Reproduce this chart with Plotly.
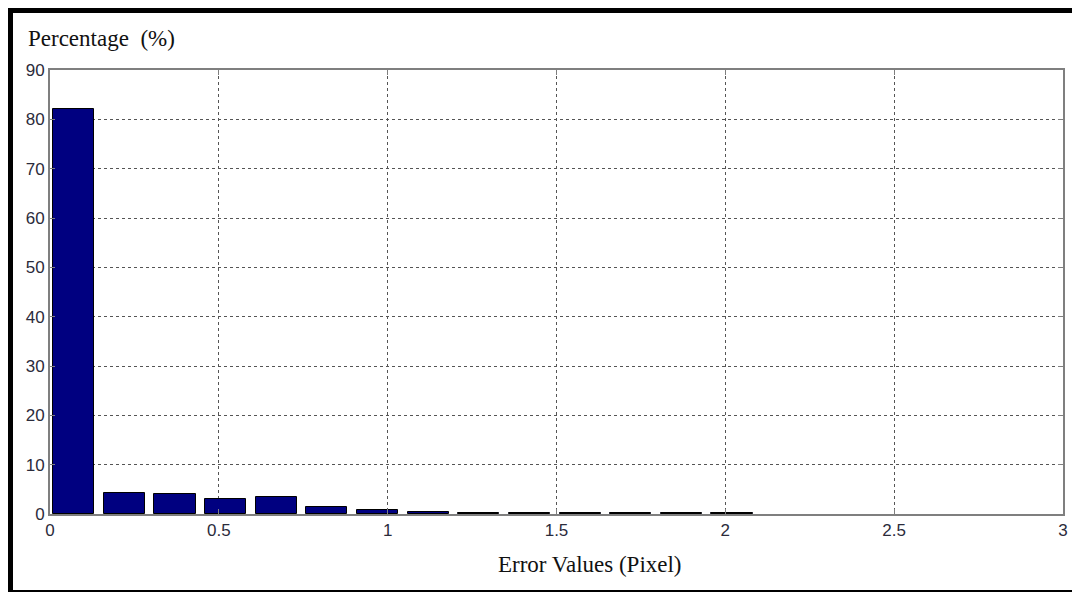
import plotly.graph_objects as go

# histogram of error values (bin centres, pixel) and share of points (%)
error_bins = [0.07, 0.22, 0.37, 0.52, 0.67, 0.82, 0.97, 1.12, 1.27, 1.42, 1.57, 1.72, 1.87, 2.02]
percentage = [82.1, 4.3, 4.05, 3.0, 3.45, 1.5, 0.75, 0.5, 0.3, 0.3, 0.25, 0.25, 0.25, 0.3]
x_ticks = [0, 0.5, 1, 1.5, 2, 2.5, 3]
x_tick_text = ["0", "0.5", "1", "1.5", "2", "2.5", "3"]
y_ticks = [0, 10, 20, 30, 40, 50, 60, 70, 80, 90]

# page body adds an 8px margin, so the figure is drawn 8px in from the window edge
OFF = 8
W, H = 1080 - OFF, 592 - OFF
L, T = 50 - OFF, 70 - OFF
R, B = 1080 - 1063, 592 - 514
pw, ph = W - L - R, H - T - B


def px(x):
  return (x - OFF - L) / pw


def py(y):
  return (H - B - (y - OFF)) / ph


fig = go.Figure()
fig.add_trace(go.Bar(
  x=error_bins, y=percentage, width=0.122,
  marker=dict(color="#000080", line=dict(color="black", width=1)),
))

axis_common = dict(
  showline=True, linecolor="#7f7f7f", linewidth=2, mirror="ticks",
  ticks="inside", ticklen=5, tickcolor="#7f7f7f", tickwidth=1,
  showgrid=True, gridcolor="#555555", griddash="3px,3px", gridwidth=1,
  zeroline=False,
  tickfont=dict(family="Arial, Liberation Sans, sans-serif", size=17, color="#2b2b3b"),
)

fig.update_xaxes(range=[0, 3], tickvals=x_ticks, ticktext=x_tick_text, **axis_common)
fig.update_yaxes(range=[0, 90], tickvals=y_ticks, **axis_common)

# outer frame of the figure (page pixel coords)
frame = [
  (8, 8, 1079, 13),
  (8, 8, 13, 592),
  (1077, 8, 1079, 592),
  (8, 590, 1079, 592),
]
shapes = []
for x0, y0, x1, y1 in frame:
  shapes.append(dict(type="rect", xref="paper", yref="paper",
                     x0=px(x0), x1=px(x1), y0=py(y1), y1=py(y0),
                     fillcolor="black", line=dict(width=0), layer="above"))

serif = dict(family="Liberation Serif, Times New Roman, serif", size=23, color="#111111")
fig.update_layout(
  width=W, height=H,
  margin=dict(l=L, r=R, t=T, b=B),
  paper_bgcolor="white", plot_bgcolor="white",
  showlegend=False, bargap=0,
  shapes=shapes,
  annotations=[
    dict(text="Percentage\u00a0\u00a0(%)", xref="paper", yref="paper", x=px(26), y=py(39),
         xanchor="left", yanchor="middle", showarrow=False, font=serif),
    dict(text="Error Values (Pixel)", xref="paper", yref="paper", x=px(590), y=py(564),
         xanchor="center", yanchor="middle", showarrow=False, font=serif),
  ],
)

fig.write_html("out.html")
